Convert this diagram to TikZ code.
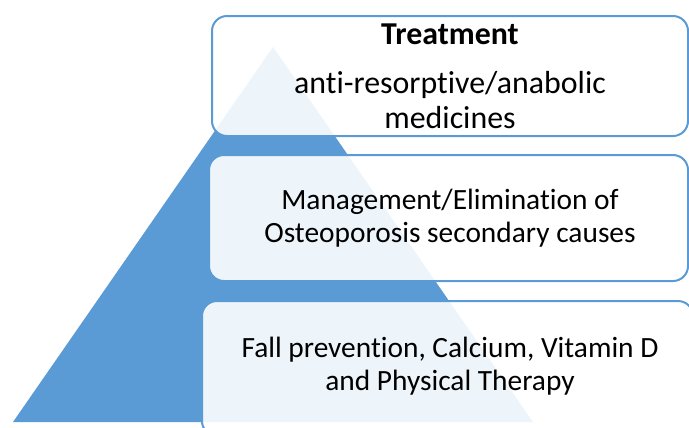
\documentclass[tikz,border=0pt]{standalone}
\usepackage{fontspec}
\setmainfont[RawFeature={-liga;-clig;-calt;-dlig}]{Carlito}
\definecolor{pyrblue}{HTML}{5B9BD5}
% keep "t" and "i" apart as separate glyphs
\newcommand\tsep{t\kern0pt i}
\begin{document}
\begin{tikzpicture}[x=1bp,y=-1bp,
  layer/.style={draw=pyrblue, line width=2bp, rounded corners=15bp,
    fill=white, fill opacity=0.9, text opacity=1},
  label/.style={align=center, font=\fontsize{29.5}{33}\selectfont, inner sep=0pt}]
\useasboundingbox (0,0) rectangle (689,427);
% pyramid
\fill[pyrblue] (273,47) coordinate (apex) -- (533,422) coordinate (br) -- (13,422) coordinate (bl) -- cycle;
% the three layers
\draw[layer] (212,16) rectangle (688,136);
\draw[layer] (209,155) rectangle (688,281);
\draw[layer] (202,301) rectangle (693,436);
% texts
\node[label, anchor=base, font=\fontsize{32}{33}\selectfont\bfseries] (ttl) at (450,44) {Treatment};
\node[label, font=\fontsize{32}{35}\selectfont] (med) at (450,100) {an\tsep-resorp\tsep ve/anabolic\\medicines};
\node[label] (sec) at (450,218) {Management/Elimina\tsep on of\\Osteoporosis secondary causes};
\node[label] (fall) at (450,366.5) {Fall preven\tsep on, Calcium, Vitamin D\\and Physical Therapy};
\end{tikzpicture}
\end{document}
